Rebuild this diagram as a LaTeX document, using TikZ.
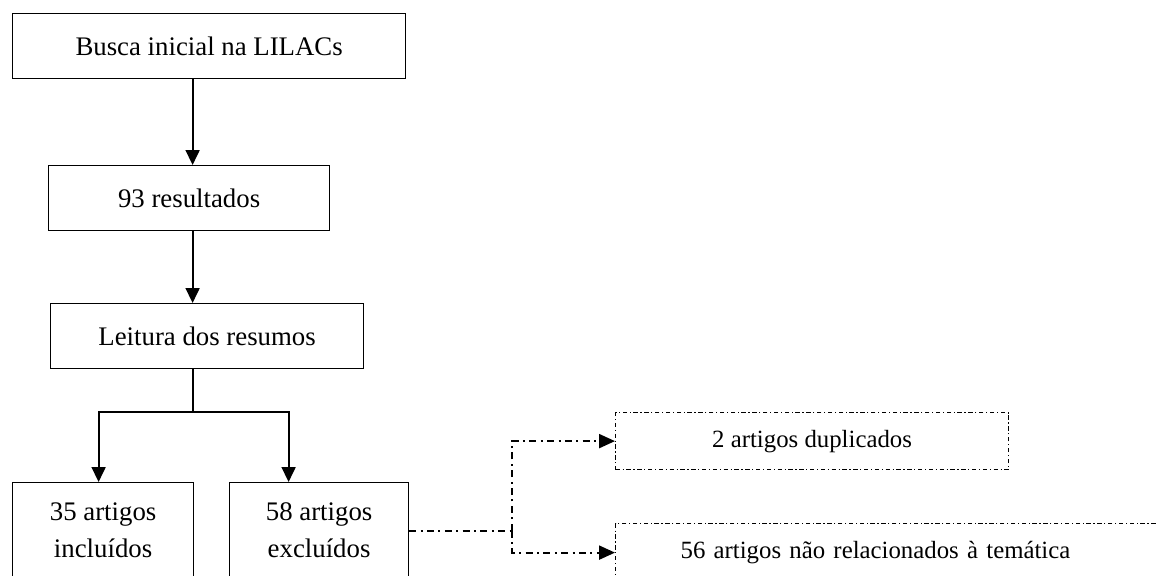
\documentclass[tikz,border=0pt]{standalone}
\usepackage{fontspec}
\setmainfont{Liberation Serif}
\usetikzlibrary{arrows.meta}

\begin{document}
\begin{tikzpicture}[x=0.5pt, y=-0.5pt,
        box/.style={draw, line width=0.6pt, anchor=north west, align=center, inner sep=2pt,
            font=\fontsize{13.4}{18.5}\selectfont},
        dbox/.style={draw, line width=0.6pt, anchor=north west, align=center, inner sep=2pt,
            dash pattern=on 2.2pt off 1.3pt on 0.6pt off 1.3pt,
            font=\fontsize{12.4}{15}\selectfont},
        arr/.style={line width=0.9pt, -{Triangle[length=7.5pt,width=7pt]}},
        dd/.style={line width=1.1pt, dash pattern=on 3.5pt off 2.2pt on 1pt off 2.2pt},
        darr/.style={dd, -{Triangle[length=8pt,width=7pt]}}]
    \useasboundingbox (0,0) rectangle (1157,575);
    \clip (0,0) rectangle (1157,575);

    \node (busca) [box, minimum width=196.5pt, minimum height=32.5pt] at (12,13) {Busca inicial na LILACs};
    \node (resultados) [box, minimum width=140.5pt, minimum height=32.5pt] at (48,165) {93 resultados};
    \node (leitura) [box, minimum width=156.5pt, minimum height=32.5pt] at (50,303) {Leitura dos resumos};

    \node (incl) [box, minimum width=90.5pt, minimum height=48pt] at (12,482) {35 artigos\\inclu\'idos};
    \node (excl) [box, minimum width=89.5pt, minimum height=48pt] at (229,482) {58 artigos\\exclu\'idos};

    \node (dup) [dbox, minimum width=196.5pt, minimum height=28.5pt] at (615,412) {2 artigos duplicados};
    \node (tema) [dbox, minimum height=29pt, inner xsep=32.5pt, text width=217.5pt, align=left] at (615,523)
        {56 artigos n\~ao relacionados \`a tem\'atica};

    \coordinate (split) at (193,412);
    \coordinate (fork) at (512,529);

    \draw[arr] ([xshift=1.75pt]resultados.north |- busca.south) -- ([xshift=1.75pt]resultados.north);
    \draw[arr] ([xshift=1.75pt]resultados.south) -- ([xshift=1.75pt]resultados.south |- leitura.north);

    \draw[line width=0.9pt] (leitura.south -| split) -- (split);
    \draw[arr] (split) -| ([xshift=-2.25pt]incl.north);
    \draw[arr] (split) -| ([xshift=-15.25pt]excl.north);

    \draw[dd] (excl.east) -- (excl.east -| fork);
    \draw[darr] (excl.east -| fork) |- (dup.west);
    \draw[darr] (excl.east -| fork) |- (tema.west);
\end{tikzpicture}
\end{document}
